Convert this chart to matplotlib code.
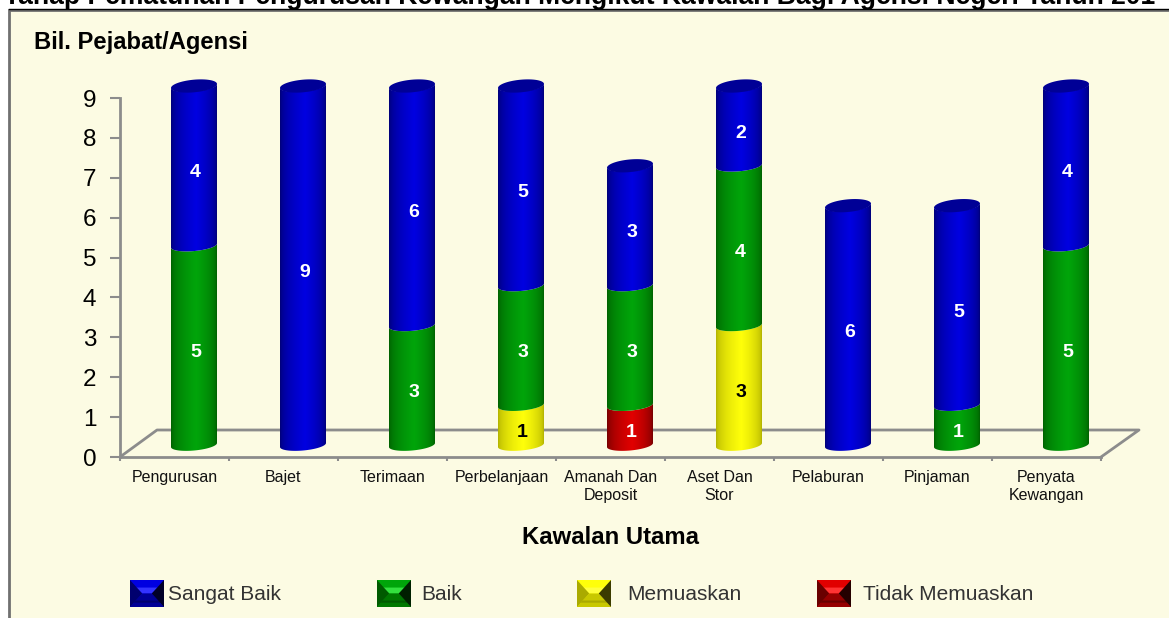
# -*- coding: utf-8 -*-
import numpy as np
import matplotlib
matplotlib.use("Agg")
from matplotlib import pyplot as plt
from matplotlib.patches import Polygon, Rectangle

plt.rcParams['font.family'] = ['Liberation Sans', 'DejaVu Sans']

categories = ['Pengurusan', 'Bajet', 'Terimaan', 'Perbelanjaan', 'Amanah Dan\nDeposit',
              'Aset Dan\nStor', 'Pelaburan', 'Pinjaman', 'Penyata\nKewangan']
# stacked bottom to top: red, yellow, green, blue
tidak_memuaskan = [0, 0, 0, 0, 1, 0, 0, 0, 0]
memuaskan = [0, 0, 0, 1, 0, 3, 0, 0, 0]
baik = [5, 0, 3, 3, 3, 4, 0, 1, 5]
sangat_baik = [4, 9, 6, 5, 3, 2, 6, 5, 4]
yticks = [0, 1, 2, 3, 4, 5, 6, 7, 8, 9]
series_names = ['Tidak Memuaskan', 'Memuaskan', 'Baik', 'Sangat Baik']

W, H = 1169, 618
BG = '#FCFBE3'
GREY = '#8C8C8C'
# edge, mid, cap colours
shades = {'Sangat Baik': ((0, 0, 110), (0, 0, 225), (0, 0, 150)),
          'Baik': ((0, 90, 0), (0, 165, 10), (0, 120, 0)),
          'Memuaskan': ((170, 170, 0), (255, 255, 10), (200, 200, 0)),
          'Tidak Memuaskan': ((105, 0, 0), (225, 0, 0), (150, 0, 0))}

fig = plt.figure(figsize=(W / 100, H / 100), dpi=100, facecolor='white')

# overlay in pixel coords for the panel, titles and legend
bg = fig.add_axes([0, 0, 1, 1])
bg.set_xlim(0, W)
bg.set_ylim(H, 0)
bg.axis('off')
bg.add_patch(Rectangle((9, 10), W, H, fc=BG, ec='#707070', lw=2))
bg.plot([9, W], [9, 9], color='black', lw=1)
bg.text(4, 4, 'Tahap Pematuhan Pengurusan Kewangan Mengikut Kawalan Bagi Agensi Negeri Tahun 201',
        ha='left', va='baseline', fontsize=19.1, fontweight='bold', color='black')
bg.text(34, 42, 'Bil. Pejabat/Agensi', fontsize=17.1, fontweight='bold', va='center')
bg.text(610, 538, 'Kawalan Utama', fontsize=17.2, fontweight='bold', va='center', ha='center')

# floor of the 3D box
bg.plot([120, 157, 1139, 1101], [457, 430, 430, 457], color=GREY, lw=2, zorder=1)


def swatch(x, y, w, h, name):
    edge, mid, cap = [np.array(c) / 255 for c in shades[name]]
    light = np.minimum(mid * 1.05 + 0.2, 1)
    cx0, cx1, cy = x + w * 0.36, x + w * 0.64, y + h * 0.5
    qx0, qx1, qy = x + w * 0.16, x + w * 0.84, y + h * 0.28
    bg.add_patch(Rectangle((x, y), w, h, fc=mid, ec='none'))
    bg.add_patch(Polygon([(qx0, qy), (qx1, qy), (cx1, cy), (cx0, cy)], fc=light, ec='none'))
    bg.add_patch(Polygon([(x, y + h), (x + w, y + h), (cx1, cy), (cx0, cy)], fc=cap, ec='none'))
    bg.add_patch(Polygon([(x + w * 0.16, y + h * 0.76), (x + w * 0.84, y + h * 0.76),
                          (x + w * 0.9, y + h * 0.84), (x + w * 0.1, y + h * 0.84)], fc=edge, ec='none'))
    bg.add_patch(Polygon([(x, y), (x, y + h), (cx0, cy)], fc=edge, ec='none'))
    bg.add_patch(Polygon([(x + w, y), (x + w, y + h), (cx1, cy)], fc=edge * 0.35, ec='none'))


legend_x = [(130, 168, 'Sangat Baik'), (377, 421, 'Baik'), (577, 627, 'Memuaskan'), (817, 863, 'Tidak Memuaskan')]
for sx, tx, name in legend_x:
    swatch(sx, 580, 34, 27, name)
    bg.text(tx, 595, name, fontsize=15, color='#333333', va='center')

px = 109.0  # pixels per category
py = 359.0 / 9  # pixels per unit
top_val = 9.7  # room above 9 for the 3D offset and caps

# main axes, x in category slots and y in counts
ax_top = 457 - top_val * py
ax = fig.add_axes([120 / W, 1 - 457 / H, (1101 - 120) / W, (457 - ax_top) / H], zorder=2)
ax.patch.set_alpha(0)
ax.set_xlim(0, len(categories))
ax.set_ylim(0, top_val)
for s in ['top', 'right']:
    ax.spines[s].set_visible(False)
for s in ['left', 'bottom']:
    ax.spines[s].set_color(GREY)
    ax.spines[s].set_linewidth(2)
ax.spines['left'].set_bounds(0, 9)
ax.set_yticks(yticks)
ax.tick_params(axis='y', labelsize=17.5, length=7, width=1.5, color=GREY, pad=10)
ax.set_xticks(np.arange(len(categories) + 1))
ax.set_xticklabels([])
ax.tick_params(axis='x', length=3, width=1.5, color=GREY)

dx = 19.5 / px  # 3D offset of the bars
dy = 12.0 / py
half_w = 23.0 / px
b = 5.5 / py
tilt = 2.0 / py


def seg_outline(xc, y0, y1):
    th = np.linspace(0, np.pi, 60)
    xs = np.cos(th)
    low0 = y0 - b * np.sin(th) + tilt * xs
    low1 = y1 - b * np.sin(th) + tilt * xs
    return np.concatenate([np.c_[xc + half_w * xs, low0], np.c_[xc + half_w * xs[::-1], low1[::-1]]])


def gradient(name):
    edge, mid, cap = [np.array(c) / 255 for c in shades[name]]
    t = np.linspace(0, 1, 200)
    # brightest a little right of the middle
    k = np.where(t < 0.55, t / 0.55, (1 - t) / 0.45) ** 0.45
    return (edge[None, :] + (mid - edge)[None, :] * k[:, None])[None, :, :]


stack = [tidak_memuaskan, memuaskan, baik, sangat_baik]
for i in range(len(categories)):
    xc = i + 0.5 + dx
    base = 0
    last = None
    for name, vals in zip(series_names, stack):
        v = vals[i]
        if v == 0:
            continue
        y0, y1 = base + dy, base + v + dy
        poly = Polygon(seg_outline(xc, y0, y1), closed=True, fc='none', ec='none', transform=ax.transData)
        ax.add_patch(poly)
        im = ax.imshow(gradient(name), extent=(xc - half_w, xc + half_w, max(y0 - 2 * b, 0), y1 + 2 * b),
                       aspect='auto', interpolation='bilinear', zorder=3 + base * 0.1)
        im.set_clip_path(poly)
        ax.text(xc + 0.015, (y0 + y1) / 2 - 0.18, str(v), ha='center', va='center', fontsize=14,
                fontweight='bold', color='black' if name == 'Memuaskan' else 'white', zorder=6)
        base += v
        last = name
    top_y = base + dy
    cap = np.array(shades[last][2]) / 255
    th = np.linspace(0, 2 * np.pi, 120)
    ax.add_patch(Polygon(np.c_[xc + half_w * np.cos(th), top_y + 1.15 * b * np.sin(th) + tilt * np.cos(th)],
                         closed=True, fc=cap, ec='none', zorder=5))
    ax.text(i + 0.5, -0.32, categories[i], ha='center', va='top', fontsize=11.5, linespacing=1.25,
            color='#111111', clip_on=False)

ax.set_xlim(0, len(categories))
ax.set_ylim(0, top_val)
ax.set_aspect('auto')

fig.savefig('out.png', dpi=100, facecolor='white')
